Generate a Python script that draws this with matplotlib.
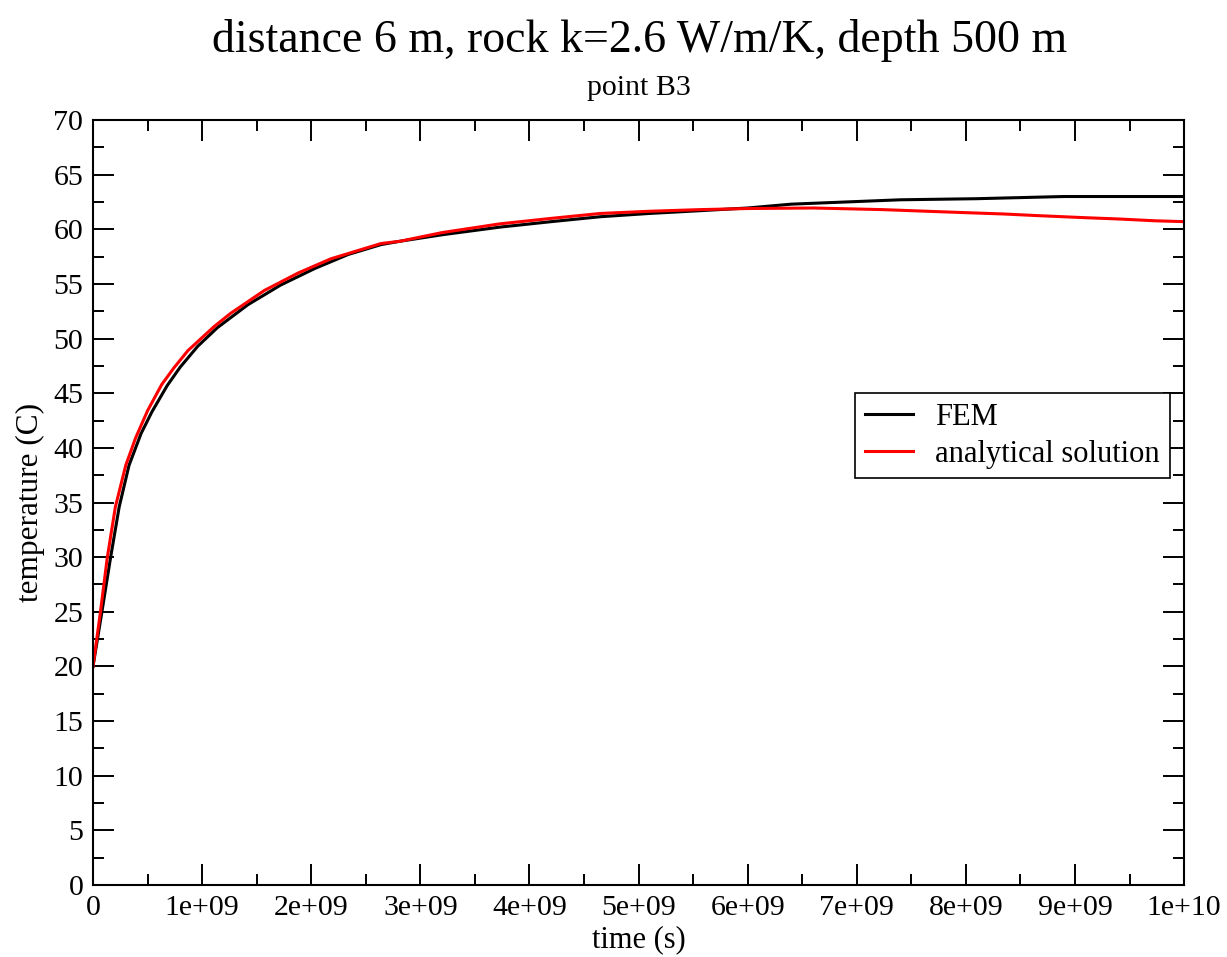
import matplotlib
matplotlib.use("Agg")
import matplotlib.pyplot as plt
from matplotlib.ticker import MultipleLocator, FuncFormatter

plt.rcParams['font.family'] = ['Liberation Serif', 'DejaVu Serif']

# FEM result, point B3 (time in s, temperature in C)
fem_time = [0, 0.08e9, 0.16e9, 0.24e9, 0.33e9, 0.44e9, 0.54e9, 0.68e9, 0.80e9, 0.96e9,
            1.14e9, 1.42e9, 1.72e9, 2.03e9, 2.34e9, 2.64e9, 2.81e9, 3.2e9, 3.73e9, 4.2e9,
            4.65e9, 5.1e9, 5.56e9, 6.0e9, 6.4e9, 6.9e9, 7.4e9, 8.1e9, 8.9e9, 10.0e9]
fem_temp = [20, 24.9, 29.9, 34.6, 38.4, 41.3, 43.3, 45.7, 47.4, 49.3,
            51.0, 53.1, 54.9, 56.4, 57.7, 58.6, 58.9, 59.5, 60.2, 60.7,
            61.15, 61.45, 61.7, 61.95, 62.3, 62.5, 62.7, 62.8, 63.0, 63.0]

# analytical solution
ana_time = [0, 0.067e9, 0.13e9, 0.205e9, 0.30e9, 0.39e9, 0.50e9, 0.63e9, 0.74e9, 0.87e9,
            1.11e9, 1.26e9, 1.57e9, 1.88e9, 2.18e9, 2.64e9, 2.81e9, 3.2e9, 3.73e9, 4.2e9,
            4.65e9, 5.1e9, 5.56e9, 6.0e9, 6.6e9, 7.24e9, 7.78e9, 8.35e9, 8.66e9, 9.1e9,
            9.41e9, 9.73e9, 10.0e9]
ana_temp = [20, 24.9, 29.9, 34.6, 38.4, 40.9, 43.4, 45.8, 47.3, 48.9,
            51.1, 52.3, 54.4, 56.0, 57.3, 58.7, 58.9, 59.7, 60.5, 61.0,
            61.45, 61.65, 61.8, 61.9, 61.95, 61.8, 61.6, 61.4, 61.25, 61.06,
            60.94, 60.78, 60.7]

fig = plt.figure(figsize=(12.27, 9.57), dpi=100)
ax = fig.add_axes([0.0758, 0.0752, 0.8892, 0.7994])

ax.plot(fem_time, fem_temp, color="black", lw=2.2, label="FEM")
ax.plot(ana_time, ana_temp, color="red", lw=2.2, label="analytical solution")

ax.set_xlim(0, 1e10)
ax.set_ylim(0, 70)
ax.xaxis.set_major_locator(MultipleLocator(1e9))
ax.xaxis.set_minor_locator(MultipleLocator(5e8))
ax.yaxis.set_major_locator(MultipleLocator(5))
ax.yaxis.set_minor_locator(MultipleLocator(2.5))
ax.xaxis.set_major_formatter(FuncFormatter(lambda v, p: "%g" % v))
ax.tick_params(which="both", direction="in", top=True, right=True, width=1.4,
               labelsize=21.5, pad=7)
ax.tick_params(which="major", length=15)
ax.tick_params(which="minor", length=8)
for s in ax.spines.values():
    s.set_linewidth(1.5)

ax.set_xlabel("time (s)", fontsize=22, labelpad=3)
ax.set_ylabel("temperature (C)", fontsize=22.5, labelpad=6)

leg = ax.legend(loc="upper right", bbox_to_anchor=(0.987, 0.643), borderaxespad=0,
                fontsize=22, fancybox=False, edgecolor="black", framealpha=1,
                handlelength=1.55, handletextpad=0.75, labelspacing=0.25,
                borderpad=0.32)
leg.get_frame().set_linewidth(1.2)

fig.text(0.521, 0.958, "distance 6 m, rock k=2.6 W/m/K, depth 500 m", ha="center",
         va="center", fontsize=33)
fig.text(0.521, 0.908, "point B3", ha="center", va="center", fontsize=21.5)

fig.savefig("out.png", dpi=100)
